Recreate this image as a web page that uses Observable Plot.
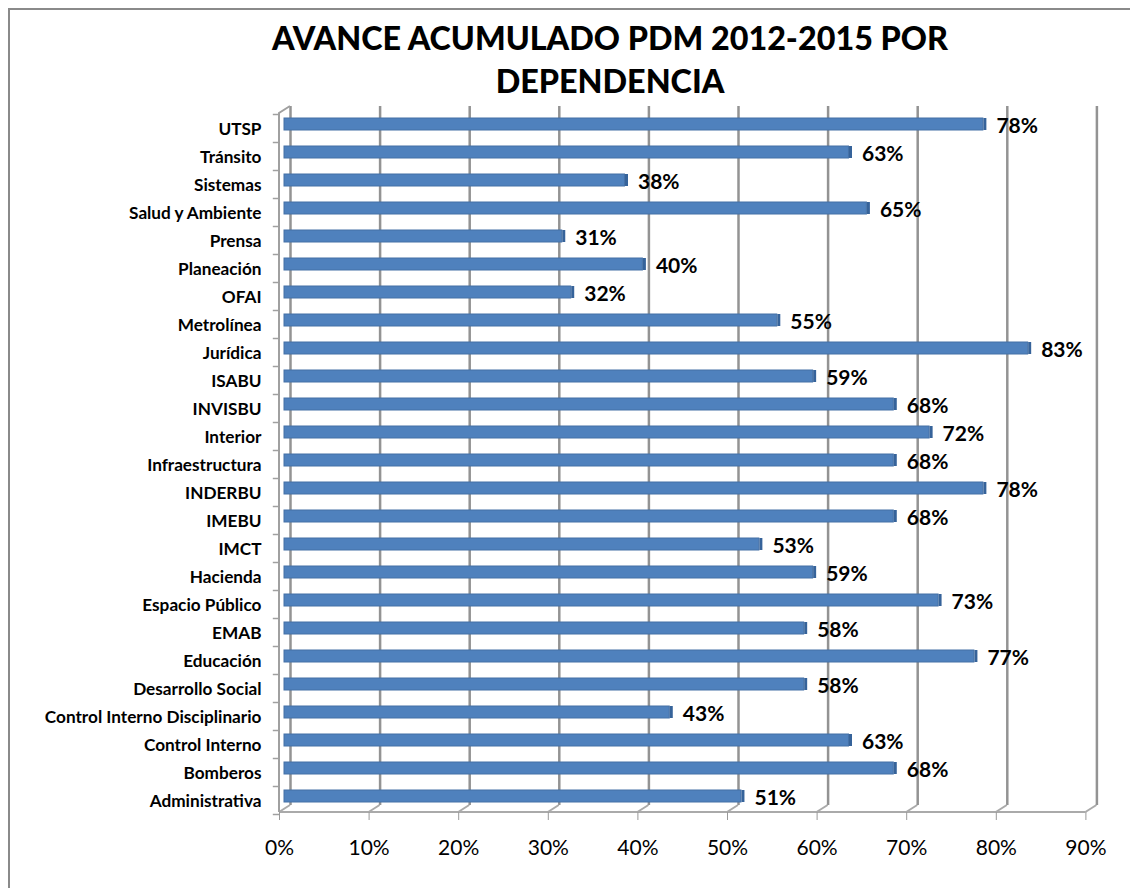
<!DOCTYPE html>
<html>
<head>
<meta charset="utf-8">
<script src="https://cdn.jsdelivr.net/npm/d3@7"></script>
<script src="https://cdn.jsdelivr.net/npm/@observablehq/plot@0.6"></script>
<style>
  html, body { margin: 0; padding: 0; background: #fff; overflow: hidden; }
  #wrap { position: relative; width: 1130px; height: 888px; overflow: hidden; }
  #border { position: absolute; left: 8px; top: 8px; width: 1200px; height: 1000px; border: 2px solid #8a8a8a; box-sizing: border-box; }
  #title { position: absolute; left: 90px; width: 1040px; top: 16px; text-align: center;
           font-family: Lato, sans-serif; font-weight: 900; font-size: 32.3px; line-height: 43px; color: #000; }
  #title span { display: inline-block; white-space: nowrap; }
  #chart { position: absolute; left: 0; top: 0; }
</style>
</head>
<body>
<div id="wrap">
  <div id="border"></div>
  <div id="chart"></div>
  <div id="title"><span>AVANCE ACUMULADO PDM 2012-2015 POR</span><br><span>DEPENDENCIA</span></div>
</div>
<script>
const dependencias = ["UTSP", "Tránsito", "Sistemas", "Salud y Ambiente", "Prensa", "Planeación", "OFAI",
  "Metrolínea", "Jurídica", "ISABU", "INVISBU", "Interior", "Infraestructura", "INDERBU", "IMEBU", "IMCT",
  "Hacienda", "Espacio Público", "EMAB", "Educación", "Desarrollo Social", "Control Interno Disciplinario",
  "Control Interno", "Bomberos", "Administrativa"];
const avance = [0.78, 0.63, 0.38, 0.65, 0.31, 0.40, 0.32, 0.55, 0.83, 0.59, 0.68, 0.72, 0.68, 0.78, 0.68, 0.53,
  0.59, 0.73, 0.58, 0.77, 0.58, 0.43, 0.63, 0.68, 0.51];
const xTicks = [0, 0.1, 0.2, 0.3, 0.4, 0.5, 0.6, 0.7, 0.8, 0.9];

const data = dependencias.map((name, i) => ({name, value: avance[i]}));
const pct = d3.format(".0%");
const FONT = "Lato, sans-serif";
const GRID = "#939393";

// 3D floor / wall edges drawn from the x scale
function edges(index, scales, values, dims) {
  const x = scales.x;
  const ns = "http://www.w3.org/2000/svg";
  const g = document.createElementNS(ns, "g");
  const yFront = dims.height - dims.marginBottom;      // front floor edge
  const yBack = yFront - 7;                             // back floor edge
  const top = dims.marginTop;
  const add = (d, w, c) => {
    const p = document.createElementNS(ns, "path");
    p.setAttribute("d", d);
    p.setAttribute("fill", "none");
    p.setAttribute("stroke", c);
    p.setAttribute("stroke-width", w);
    g.appendChild(p);
  };
  const x0 = x(0) - 5, x9 = x(0.9) - 5;
  add(`M${x0},${yFront}H${x9}`, 2, "#aaaaaa");
  for (const t of xTicks) {
    const xf = x(t) - 5;
    add(`M${xf},${yFront}L${xf + 11},${yBack}`, 2, "#aaaaaa");
  }
  add(`M${x0},${yFront}V${top + 5}L${x0 + 11},${top - 2}`, 2, "#a0a0a0");
  return g;
}

const chart = Plot.plot({
  width: 1130,
  height: 888,
  marginLeft: 284,
  marginRight: 39.6,
  marginTop: 108,
  marginBottom: 76,
  style: {fontFamily: FONT, color: "#000", background: "transparent", overflow: "visible"},
  x: {domain: [0, 0.9]},
  y: {domain: dependencias, paddingInner: 0.57, paddingOuter: 0.32, align: 0.5},
  marks: [
    Plot.ruleX(xTicks, {x: d => d, dx: 6, insetTop: -2, insetBottom: 7, stroke: GRID, strokeWidth: 2.5}),
    edges,
    Plot.ruleY(dependencias, {y: d => d, x1: -0.0125, x2: -0.0055, dy: 18, stroke: "#a0a0a0", strokeWidth: 1.5}),
    Plot.ruleY(dependencias.slice(0, 1), {y: d => d, x1: -0.0125, x2: -0.0055, dy: -10, stroke: "#a0a0a0", strokeWidth: 1.5}),
    Plot.barX(data, {x: "value", y: "name", fill: "#4F81BD", stroke: "#4470A6", strokeWidth: 1}),
    Plot.tickX(data, {x: "value", y: "name", dx: 1.5, stroke: "#36639A", strokeWidth: 3}),
    Plot.text(data, {x: "value", y: "name", text: d => pct(d.value), textAnchor: "start", dx: 13, dy: 2,
      fontSize: 21, fontWeight: "bold", fill: "#000", fontFamily: FONT}),
    Plot.axisY({tickSize: 0, tickPadding: 23, dy: 4.5, fontSize: 17.2, fontWeight: "bold", label: null, fill: "#000"}),
    Plot.axisX(xTicks, {tickSize: 8, tickPadding: 20, dx: -5, fontSize: 21, tickFormat: pct, label: null, stroke: "#999", fill: "#000"})
  ]
});
document.getElementById("chart").appendChild(chart);
</script>
</body>
</html>
